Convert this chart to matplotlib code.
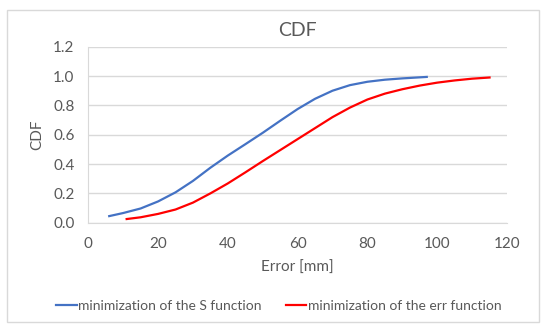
import matplotlib
matplotlib.use("Agg")
import matplotlib.pyplot as plt
from matplotlib.patches import Rectangle

plt.rcParams["font.family"] = ["Lato", "DejaVu Sans"]

# curves (error in mm, CDF value)
s_err = [6, 10, 15, 20, 25, 30, 35, 40, 45, 50, 55, 60, 65, 70, 75, 80, 85, 90, 97]
s_cdf = [0.045, 0.066, 0.097, 0.145, 0.207, 0.285, 0.375, 0.458, 0.535, 0.613, 0.695,
         0.775, 0.845, 0.90, 0.938, 0.961, 0.975, 0.984, 0.994]
e_err = [11, 15, 20, 25, 30, 35, 40, 45, 50, 55, 60, 65, 70, 75, 80, 85, 90,
         95, 100, 105, 110, 115]
e_cdf = [0.025, 0.037, 0.06, 0.09, 0.137, 0.2, 0.268, 0.343, 0.42, 0.495, 0.57,
         0.645, 0.72, 0.785, 0.84, 0.88, 0.91, 0.935, 0.955, 0.97, 0.982, 0.99]
x_ticks = [0, 20, 40, 60, 80, 100, 120]
y_ticks = [0.0, 0.2, 0.4, 0.6, 0.8, 1.0, 1.2]

GRID = "#d9d9d9"
TXT = "#595959"

fig = plt.figure(figsize=(5.5, 3.28), dpi=100)
fig.patches.append(Rectangle((0.012, 0.018), 0.968, 0.953, transform=fig.transFigure,
                             fill=False, edgecolor=GRID, lw=1.0))
ax = fig.add_axes([0.1605, 0.321, 0.7613, 0.5366])

ax.plot(s_err, s_cdf, color="#4472C4", lw=1.6, label="minimization of the S function")
ax.plot(e_err, e_cdf, color="#FF0000", lw=1.6, label="minimization of the err function")

ax.set_xlim(0, 120)
ax.set_ylim(0, 1.2)
ax.set_xticks(x_ticks)
ax.set_yticks(y_ticks)
ax.set_yticklabels([f"{v:.1f}" for v in y_ticks])
ax.grid(axis="y", color=GRID, lw=1.0)
ax.set_axisbelow(True)
for side in ["top", "right"]:
    ax.spines[side].set_visible(False)
for side in ["left", "bottom"]:
    ax.spines[side].set_color(GRID)
ax.tick_params(length=0, colors=TXT, labelsize=11, pad=10)

ax.set_title("CDF", color=TXT, fontsize=14, pad=8)
ax.set_xlabel("Error [mm]", color=TXT, fontsize=11, labelpad=7)
ax.set_ylabel("CDF", color=TXT, fontsize=11, labelpad=6)

fig.legend(loc="center", bbox_to_anchor=(0.507, 0.068), ncol=2, frameon=False,
           fontsize=10, labelcolor=TXT, handlelength=1.5, handletextpad=0.1,
           columnspacing=1.7)

fig.savefig("out.png", dpi=100)
